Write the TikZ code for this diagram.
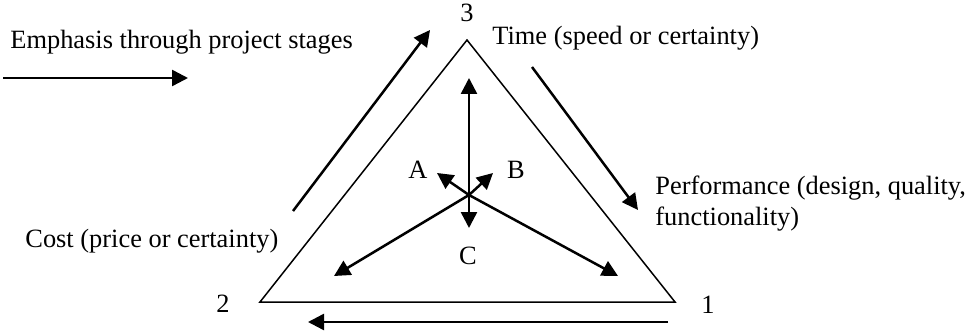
\documentclass[tikz,border=0pt]{standalone}
\usepackage{fontspec}
\setmainfont{Liberation Serif}
\usetikzlibrary{arrows.meta}
\tikzset{
  caption/.style={inner sep=0pt, anchor=base west, align=left},
  num/.style={inner sep=0pt, anchor=base},
  edge/.style={draw=black, line width=0.75pt, line join=miter},
  arrow/.style={-{Triangle[length=8pt, width=8pt]}, line width=1.25pt, draw=black}
}

\begin{document}
\begin{tikzpicture}[x=0.5pt, y=-0.5pt, font=\fontsize{13.2}{15}\selectfont]
  \useasboundingbox (0,0) rectangle (967,331);

  % triangle corners
  \coordinate (c1) at (675,302);
  \coordinate (c2) at (260,302);
  \coordinate (c3) at (467,40);
  \draw[edge] (c1) -- (c2) -- (c3) -- cycle;

  \node[num] (n3) at (467,22) {3};
  \node[num] (n2) at (223,312) {2};
  \node[num] (n1) at (708,313) {1};

  \node[caption] (emph) at (10,49) {Emphasis through project stages};
  \node[caption] (time) at (492,45) {Time (speed or certainty)};
  \node[caption] (cost) at (25,247) {Cost (price or certainty)};
  \node[caption] (perf) at (655,225) {Performance (design, quality,\\functionality)};

  % stage arrows
  \coordinate (emphfrom) at (3,78);
  \coordinate (emphto) at (188,78);
  \coordinate (costfrom) at (293,211);
  \coordinate (costto) at (430,30);
  \coordinate (timefrom) at (532,67);
  \coordinate (timeto) at (638,210);
  \coordinate (perffrom) at (668,322);
  \coordinate (perfto) at (308,322);
  \draw[arrow] (emphfrom) -- (emphto);
  \draw[arrow] (costfrom) -- (costto);
  \draw[arrow] (timefrom) -- (timeto);
  \draw[arrow] (perffrom) -- (perfto);

  % centre star
  \coordinate (hub) at (469,195);
  \coordinate (tipup) at (469,78);
  \coordinate (tipdown) at (469,228);
  \coordinate (tipa) at (437,173);
  \coordinate (tipb) at (493,173);
  \coordinate (tipleft) at (334,276);
  \coordinate (tipright) at (618,276);
  \foreach \t in {tipup,tipdown,tipa,tipb,tipleft,tipright}
    \draw[arrow] (hub) -- (\t);

  \node[num] (a) at (418,178) {A};
  \node[num] (b) at (516,178) {B};
  \node[num] (c) at (468,264) {C};
\end{tikzpicture}
\end{document}
